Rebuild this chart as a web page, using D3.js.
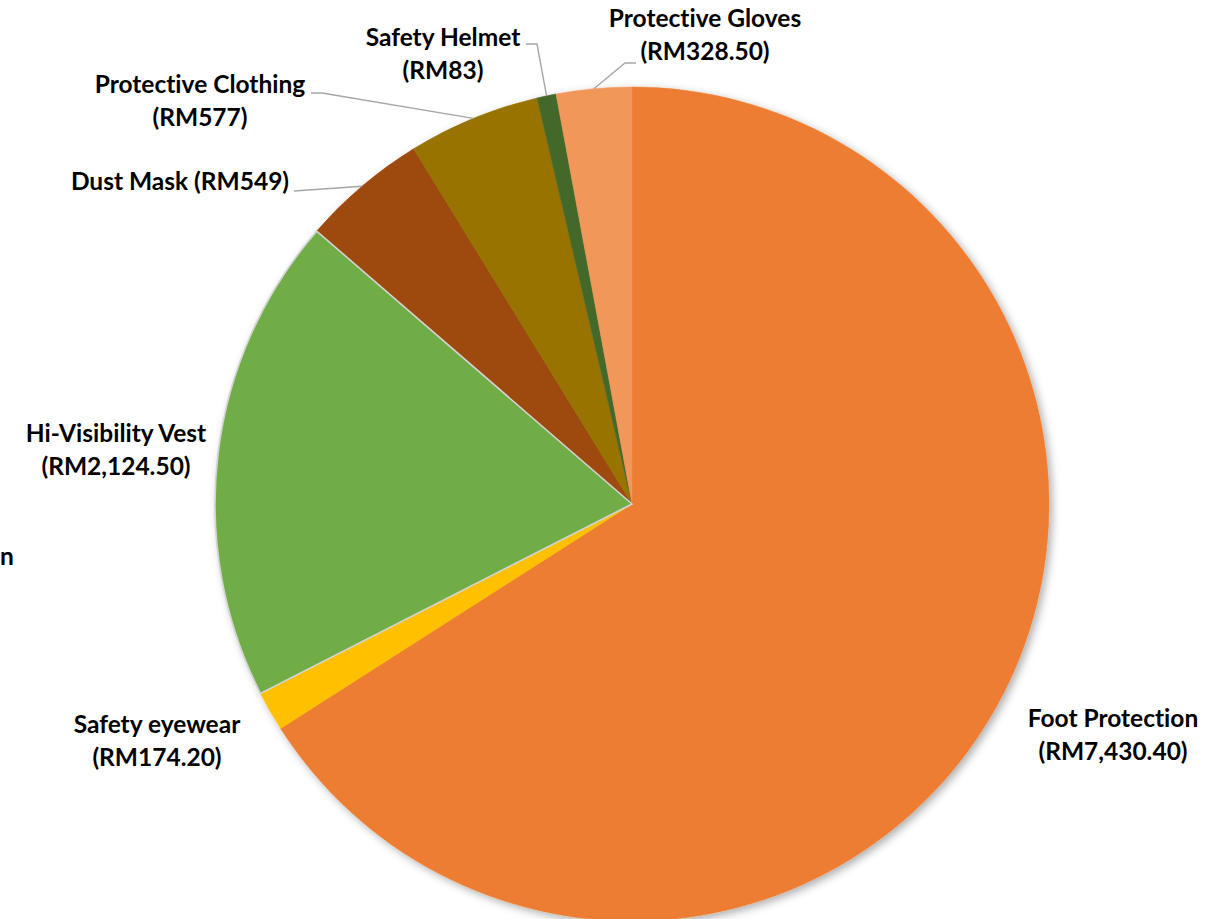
<!DOCTYPE html>
<html>
<head>
<meta charset="utf-8">
<script src="https://cdn.jsdelivr.net/npm/d3@7"></script>
<style>
  html, body { margin: 0; padding: 0; background: #fff; }
  svg { display: block; }
  .lbl { font-family: "Lato", "Open Sans", sans-serif; font-weight: 700; fill: #000;
         font-variant-ligatures: none; }
</style>
</head>
<body>
<svg id="chart" width="1228" height="919"></svg>
<script>
// PPE spending by item (RM)
const categories = ["Foot Protection", "Safety eyewear", "Hi-Visibility Vest", "Dust Mask",
                    "Protective Clothing", "Safety Helmet", "Protective Gloves"];
const values = [7430.40, 174.20, 2124.50, 549, 577, 83, 328.50];
const valueLabels = ["RM7,430.40", "RM174.20", "RM2,124.50", "RM549", "RM577", "RM83", "RM328.50"];
const colors = ["#ED7D31", "#FFC000", "#70AD47", "#9E480E", "#997300", "#43682B", "#F1975A"];

// label placement: text centre x, first baseline y, single-line flag, leader elbow/end
const labelLayout = [
  { x: 1113, y: 727, oneLine: false },
  { x: 157,  y: 733, oneLine: false },
  { x: 116,  y: 442, oneLine: false },
  { x: 180,  y: 190, oneLine: true,  leader: [[294, 191]] },
  { x: 200,  y: 93,  oneLine: false, leader: [[322, 93], [311, 93]] },
  { x: 443,  y: 46,  oneLine: false, leader: [[537, 44], [526, 44]] },
  { x: 705,  y: 27,  oneLine: false, leader: [[625, 63], [636, 63]] }
];

const W = 1228, H = 919;
const cx = 632, cy = 504, R = 417;
const lineGap = 33;
const fontSize = 24.5;

const svg = d3.select("#chart");

const defs = svg.append("defs");
const f = defs.append("filter").attr("id", "pieShadow")
  .attr("x", "-10%").attr("y", "-10%").attr("width", "120%").attr("height", "120%");
f.append("feDropShadow").attr("dx", 3).attr("dy", 3).attr("stdDeviation", 4)
  .attr("flood-color", "#000").attr("flood-opacity", 0.32);

const data = categories.map((c, i) => ({ name: c, value: values[i], label: valueLabels[i], color: colors[i], layout: labelLayout[i] }));

const pie = d3.pie().value(d => d.value).sort(null);
const arcs = pie(data);
const arc = d3.arc().innerRadius(0).outerRadius(R);

const g = svg.append("g").attr("transform", `translate(${cx},${cy})`);
const slices = g.append("g").attr("filter", "url(#pieShadow)");
slices.selectAll("path")
  .data(arcs)
  .enter().append("path")
  .attr("d", arc)
  .attr("fill", d => d.data.color)
  .attr("stroke", d => d.data.color)
  .attr("stroke-width", 0.5)
  .attr("stroke-linejoin", "round");

// light outline around the vest slice, drawn over its neighbours
const vest = arcs.find(d => d.data.name === "Hi-Visibility Vest");
g.append("path").attr("d", arc(vest)).attr("fill", "none")
  .attr("stroke", "#d4d4d4").attr("stroke-width", 1.6);

// leader lines
arcs.forEach(d => {
  const L = d.data.layout;
  if (!L.leader) return;
  const mid = (d.startAngle + d.endAngle) / 2;
  const start = [cx + R * Math.sin(mid), cy - R * Math.cos(mid)];
  const pts = [start].concat(L.leader);
  svg.append("path")
    .attr("d", d3.line()(pts))
    .attr("fill", "none")
    .attr("stroke", "#a6a6a6")
    .attr("stroke-width", 1.4);
});

// labels
arcs.forEach(d => {
  const L = d.data.layout;
  const t = svg.append("text").attr("class", "lbl")
    .attr("x", L.x).attr("y", L.y)
    .attr("text-anchor", "middle")
    .attr("font-size", fontSize);
  if (L.oneLine) {
    t.text(`${d.data.name} (${d.data.label})`);
  } else {
    t.append("tspan").attr("x", L.x).attr("y", L.y).text(d.data.name);
    t.append("tspan").attr("x", L.x).attr("y", L.y + lineGap).text(`(${d.data.label})`);
  }
});

// fragment at the left margin
svg.append("text").attr("class", "lbl")
  .attr("x", 0).attr("y", 565).attr("text-anchor", "start")
  .attr("font-size", fontSize).text("n");
</script>
</body>
</html>
